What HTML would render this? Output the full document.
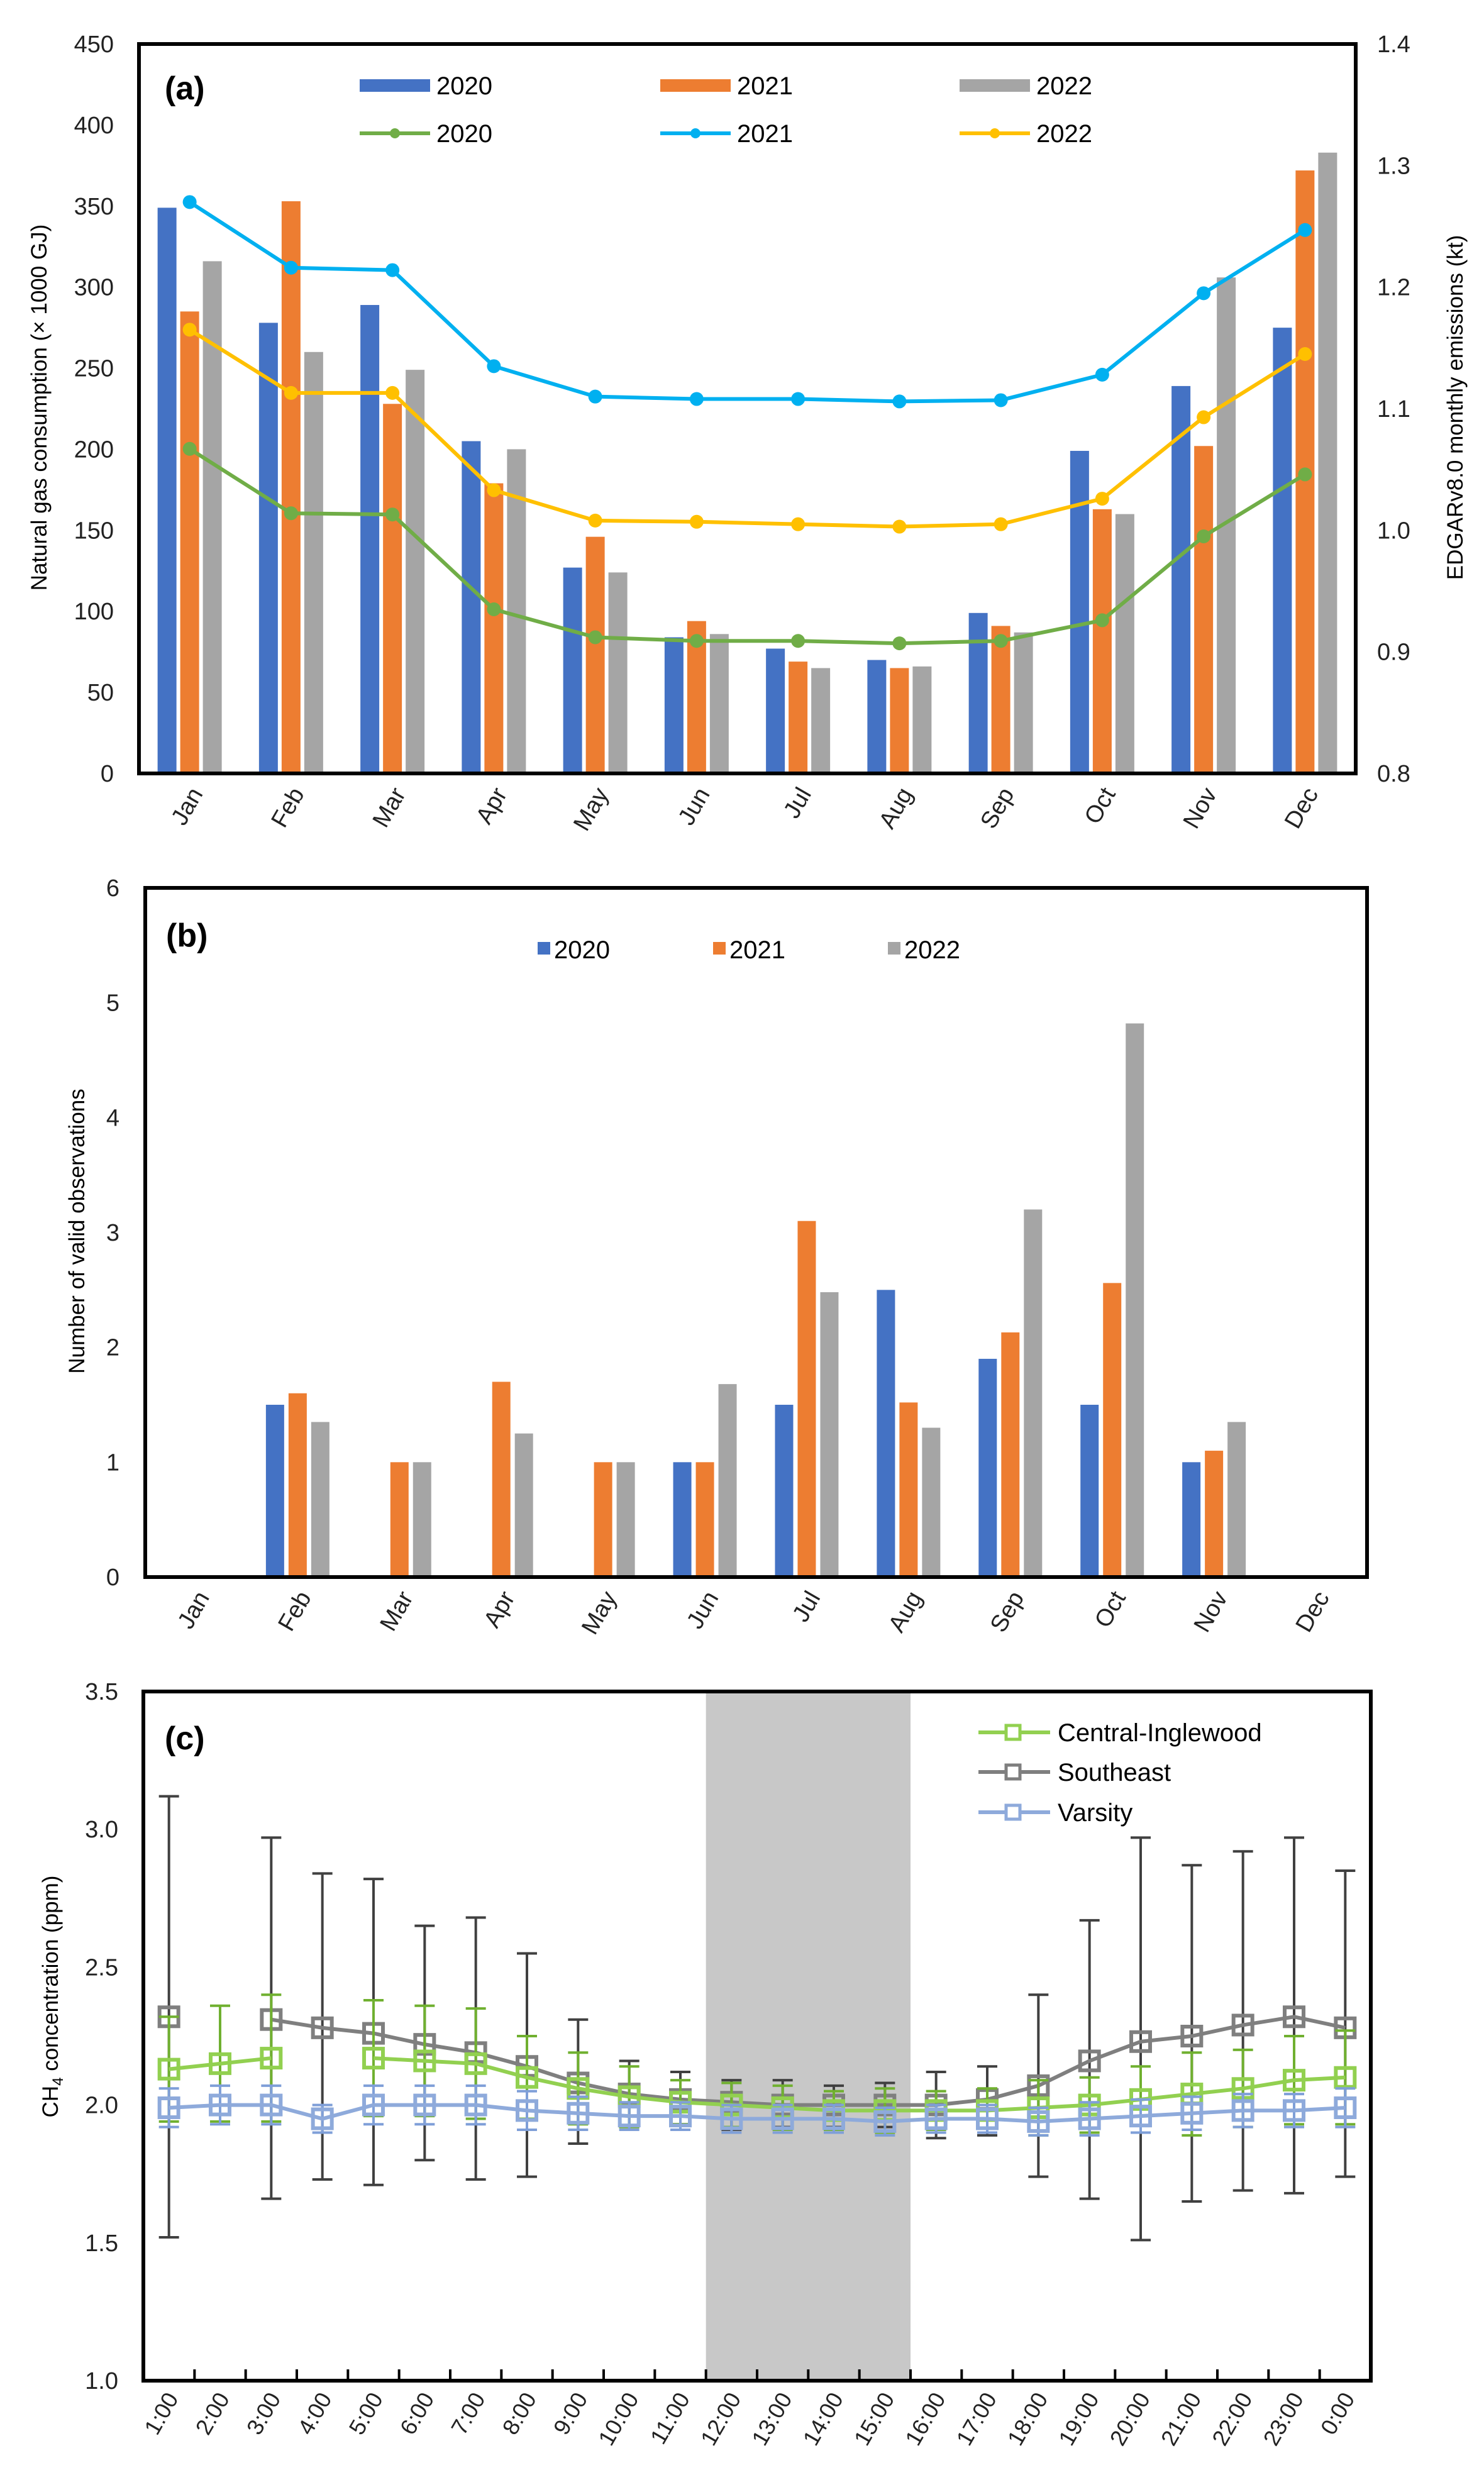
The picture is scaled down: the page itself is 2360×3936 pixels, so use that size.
<!DOCTYPE html>
<html><head><meta charset="utf-8"><style>
html,body{margin:0;padding:0;background:#fff;}
svg{display:block;font-family:"Liberation Sans",Arial,sans-serif;}
</style></head><body>
<svg id="fig" width="2360" height="3936" viewBox="0 0 2360 3936" xmlns="http://www.w3.org/2000/svg"></svg>
<script>
// ---------- Panel (a) data ----------
const months = ["Jan","Feb","Mar","Apr","May","Jun","Jul","Aug","Sep","Oct","Nov","Dec"];
const gas2020 = [349,278,289,205,127,84,77,70,99,199,239,275];
const gas2021 = [285,353,228,179,146,94,69,65,91,163,202,372];
const gas2022 = [316,260,249,200,124,86,65,66,87,160,306,383];
const em2020 = [1.067,1.014,1.013,0.935,0.912,0.909,0.909,0.907,0.909,0.926,0.995,1.046];
const em2021 = [1.270,1.216,1.214,1.135,1.110,1.108,1.108,1.106,1.107,1.128,1.195,1.247];
const em2022 = [1.165,1.113,1.113,1.033,1.008,1.007,1.005,1.003,1.005,1.026,1.093,1.145];
const aLeftTicks = [0,50,100,150,200,250,300,350,400,450];
const aRightTicks = ["0.8","0.9","1.0","1.1","1.2","1.3","1.4"];
// ---------- Panel (b) data ----------
const obs2020 = [0,1.5,0,0,0,1,1.5,2.5,1.9,1.5,1,0];
const obs2021 = [0,1.6,1,1.7,1,1,3.1,1.52,2.13,2.56,1.1,0];
const obs2022 = [0,1.35,1,1.25,1,1.68,2.48,1.3,3.2,4.82,1.35,0];
const bTicks = [0,1,2,3,4,5,6];
// ---------- Panel (c) data ----------
const hours = ["1:00","2:00","3:00","4:00","5:00","6:00","7:00","8:00","9:00","10:00","11:00","12:00","13:00","14:00","15:00","16:00","17:00","18:00","19:00","20:00","21:00","22:00","23:00","0:00"];
const seMean = [2.32,null,2.31,2.28,2.26,2.22,2.19,2.14,2.08,2.04,2.02,2.01,2.00,2.00,2.00,2.00,2.02,2.07,2.16,2.23,2.25,2.29,2.32,2.28];
const seHigh = [3.12,null,2.97,2.84,2.82,2.65,2.68,2.55,2.31,2.16,2.12,2.09,2.09,2.07,2.08,2.12,2.14,2.40,2.67,2.97,2.87,2.92,2.97,2.85];
const seLow  = [1.52,null,1.66,1.73,1.71,1.80,1.73,1.74,1.86,1.92,1.93,1.91,1.92,1.92,1.92,1.88,1.89,1.74,1.66,1.51,1.65,1.69,1.68,1.74];
const ciMean = [2.13,2.15,2.17,null,2.17,2.16,2.15,2.10,2.06,2.03,2.01,2.00,1.99,1.98,1.98,1.98,1.98,1.99,2.00,2.02,2.04,2.06,2.09,2.10];
const ciErr  = [0.19,0.21,0.23,null,0.21,0.20,0.20,0.15,0.13,0.11,0.08,0.08,0.08,0.07,0.08,0.07,0.08,0.10,0.10,0.12,0.15,0.14,0.16,0.17];
const vaMean = [1.99,2.00,2.00,1.95,2.00,2.00,2.00,1.98,1.97,1.96,1.96,1.95,1.95,1.95,1.94,1.95,1.95,1.94,1.95,1.96,1.97,1.98,1.98,1.99];
const vaErr  = [0.07,0.07,0.07,0.05,0.07,0.07,0.07,0.07,0.06,0.05,0.05,0.05,0.05,0.05,0.05,0.05,0.05,0.05,0.06,0.06,0.06,0.06,0.06,0.07];
const cTicks = ["1.0","1.5","2.0","2.5","3.0","3.5"];

const NS = "http://www.w3.org/2000/svg";
const svg = document.getElementById("fig");
function mk(tag, attrs, parent){
  const e = document.createElementNS(NS, tag);
  for (const k in attrs) e.setAttribute(k, attrs[k]);
  (parent||svg).appendChild(e);
  return e;
}
function txt(s, attrs, parent){ const e = mk("text", attrs, parent); e.textContent = s; return e; }

// ================= PANEL A =================
(function(){
  const L=221,R=2156,T=70,B=1230;
  const g = mk("g",{});
  
  
  const yL = v => B - (v/450)*(B-T);
  const yR = v => B - ((v-0.8)/0.6)*(B-T);
  const cw = (R-L)/12;
  const xC = i => L + cw*(i+0.5);
  const bars = [[gas2020,"#4472c4","bar-2020"],[gas2021,"#ed7d31","bar-2021"],[gas2022,"#a5a5a5","bar-2022"]];
  bars.forEach((s,si)=>{
    s[0].forEach((v,i)=>{
      const r = mk("rect",{x:xC(i)-51+si*36,y:yL(v),width:30,height:B-yL(v),fill:s[1]},g);
      
      
    });
  });
  const lines=[[em2020,"#70ad47","line-2020"],[em2021,"#00b0f0","line-2021"],[em2022,"#ffc000","line-2022"]];
  lines.forEach(s=>{
    const pts = s[0].map((v,i)=>xC(i)+","+yR(v)).join(" ");
    const p = mk("polyline",{points:pts,fill:"none",stroke:s[1],"stroke-width":6},g);
    
    
    s[0].forEach((v,i)=>{
      const c = mk("circle",{cx:xC(i),cy:yR(v),r:11,fill:s[1]},g);
      
      
    });
  });
  const frame = mk("rect",{x:L,y:T,width:R-L,height:B-T,fill:"none",stroke:"#000","stroke-width":6},g);
  
  
  aLeftTicks.forEach(v=>{
    const t = txt(String(v),{x:181,y:yL(v)+13,"font-size":38,"text-anchor":"end",fill:"#222"},g);
    
    
  });
  aRightTicks.forEach(v=>{
    const t = txt(v,{x:2190,y:yR(+v)+13,"font-size":38,fill:"#222"},g);
    
    
  });
  months.forEach((m,i)=>{
    const t = txt(m,{x:0,y:0,"font-size":38,"text-anchor":"end",fill:"#222",transform:`translate(${xC(i)+22},${B+32}) rotate(-60)`},g);
    
    
  });
  const yt = txt("Natural gas consumption (× 1000 GJ)",{x:0,y:0,"font-size":35,"text-anchor":"middle",fill:"#000",transform:"translate(74,648) rotate(-90)"},g);
  
  
  const yt2 = txt("EDGARv8.0 monthly emissions (kt)",{x:0,y:0,"font-size":35,"text-anchor":"middle",fill:"#000",transform:"translate(2326,648) rotate(-90)"},g);
  
  
  const lab = txt("(a)",{x:262,y:158,"font-size":52,"font-weight":"bold",fill:"#000"},g);
  
  
  const legX=[572,1050,1526], legC1=["#4472c4","#ed7d31","#a5a5a5"], legC2=["#70ad47","#00b0f0","#ffc000"], yrs=["2020","2021","2022"];
  yrs.forEach((y,i)=>{
    const r = mk("rect",{x:legX[i],y:126,width:112,height:20,fill:legC1[i]},g);
    
    
    const t = txt(y,{x:legX[i]+122,y:150,"font-size":40,fill:"#000"},g);
    
    
    const l = mk("line",{x1:legX[i],y1:212,x2:legX[i]+112,y2:212,stroke:legC2[i],"stroke-width":6},g);
    
    
    const c = mk("circle",{cx:legX[i]+56,cy:212,r:8,fill:legC2[i]},g);
    
    
    const t2 = txt(y,{x:legX[i]+122,y:226,"font-size":40,fill:"#000"},g);
    
    
  });
})();

// ================= PANEL B =================
(function(){
  const L=231,R=2174,T=1412,B=2508;
  const g = mk("g",{});
  
  
  const y = v => B - (v/6)*(B-T);
  const cw = (R-L)/12;
  const xC = i => L + cw*(i+0.5);
  const bars = [[obs2020,"#4472c4","obs-2020"],[obs2021,"#ed7d31","obs-2021"],[obs2022,"#a5a5a5","obs-2022"]];
  bars.forEach((s,si)=>{
    s[0].forEach((v,i)=>{
      if(!v) return;
      const r = mk("rect",{x:xC(i)-51+si*36,y:y(v),width:29,height:B-y(v),fill:s[1]},g);
      
      
    });
  });
  const frame = mk("rect",{x:L,y:T,width:R-L,height:B-T,fill:"none",stroke:"#000","stroke-width":6},g);
  
  
  bTicks.forEach(v=>{
    const t = txt(String(v),{x:190,y:y(v)+13,"font-size":38,"text-anchor":"end",fill:"#222"},g);
    
    
  });
  months.forEach((m,i)=>{
    const t = txt(m,{x:0,y:0,"font-size":38,"text-anchor":"end",fill:"#222",transform:`translate(${xC(i)+22},${B+32}) rotate(-60)`},g);
    
    
  });
  const yt = txt("Number of valid observations",{x:0,y:0,"font-size":35,"text-anchor":"middle",fill:"#000",transform:"translate(134,1958) rotate(-90)"},g);
  
  
  const lab = txt("(b)",{x:264,y:1505,"font-size":52,"font-weight":"bold",fill:"#000"},g);
  
  
  const lx=[855,1134,1412], lc=["#4472c4","#ed7d31","#a5a5a5"], yrs=["2020","2021","2022"];
  yrs.forEach((yy,i)=>{
    const r = mk("rect",{x:lx[i],y:1498,width:20,height:20,fill:lc[i]},g);
    
    
    const t = txt(yy,{x:lx[i]+26,y:1524,"font-size":40,fill:"#000"},g);
    
    
  });
})();

// ================= PANEL C =================
(function(){
  const L=228,R=2180,T=2690,B=3786;
  const g = mk("g",{});
  
  
  const y = v => B - ((v-1)/2.5)*(B-T);
  const cw = (R-L)/24;
  const xC = i => L + cw*(i+0.5);
  const sh = mk("rect",{x:L+cw*11,y:T,width:cw*4,height:B-T,fill:"#c8c8c8"},g);
  
  
  function series(mean, hi, lo, col, name, capCol){
    // error bars
    mean.forEach((v,i)=>{
      if(v===null) return;
      const h=hi(i), l=lo(i), x=xC(i);
      const e = mk("path",{d:`M${x},${y(h)}V${y(l)}M${x-16},${y(h)}H${x+16}M${x-16},${y(l)}H${x+16}`,stroke:capCol,"stroke-width":4,fill:"none"},g);
      
      
    });
    let segs=[],cur=[];
    mean.forEach((v,i)=>{ if(v===null){ if(cur.length) segs.push(cur); cur=[]; } else cur.push(xC(i)+","+y(v)); });
    if(cur.length) segs.push(cur);
    segs.forEach(s=>{
      const p = mk("polyline",{points:s.join(" "),fill:"none",stroke:col,"stroke-width":6},g);
      
      
    });
    mean.forEach((v,i)=>{
      if(v===null) return;
      const m = mk("rect",{x:xC(i)-15,y:y(v)-15,width:30,height:30,fill:"none",stroke:col,"stroke-width":6},g);
      
      
    });
  }
  series(seMean, i=>seHigh[i], i=>seLow[i], "#7f7f7f", "southeast", "#404040");
  series(ciMean, i=>ciMean[i]+ciErr[i], i=>ciMean[i]-ciErr[i], "#92d050", "central-inglewood", "#70b030");
  series(vaMean, i=>vaMean[i]+vaErr[i], i=>vaMean[i]-vaErr[i], "#8eaadb", "varsity", "#7f9fd8");
  const frame = mk("rect",{x:L,y:T,width:R-L,height:B-T,fill:"none",stroke:"#000","stroke-width":6},g);
  
  
  for(let i=1;i<24;i++){
    const tk = mk("line",{x1:L+cw*i,y1:B,x2:L+cw*i,y2:B-18,stroke:"#000","stroke-width":4},g);
    
    
  }
  cTicks.forEach(v=>{
    const t = txt(v,{x:188,y:y(+v)+13,"font-size":38,"text-anchor":"end",fill:"#222"},g);
    
    
  });
  hours.forEach((h,i)=>{
    const t = txt(h,{x:0,y:0,"font-size":36,"text-anchor":"end",fill:"#222",transform:`translate(${xC(i)+16},${B+28}) rotate(-60)`},g);
    
    
  });
  const yt = txt("",{x:0,y:0,"font-size":35,"text-anchor":"middle",fill:"#000",transform:"translate(92,3175) rotate(-90)"},g);
  
  
  const t1 = mk("tspan",{},yt); t1.textContent="CH";
  const t2 = mk("tspan",{"font-size":24,dy:8},yt); t2.textContent="4";
  const t3 = mk("tspan",{dy:-8},yt); t3.textContent=" concentration (ppm)";
  const lab = txt("(c)",{x:262,y:2782,"font-size":52,"font-weight":"bold",fill:"#000"},g);
  
  
  const ly=[2755,2818,2882], lcol=["#92d050","#7f7f7f","#8eaadb"], lnames=["Central-Inglewood","Southeast","Varsity"];
  lnames.forEach((n,i)=>{
    const l = mk("line",{x1:1556,y1:ly[i],x2:1670,y2:ly[i],stroke:lcol[i],"stroke-width":6},g);
    
    
    const m = mk("rect",{x:1600,y:ly[i]-11,width:22,height:22,fill:"#fff",stroke:lcol[i],"stroke-width":5},g);
    
    
    const t = txt(n,{x:1682,y:ly[i]+14,"font-size":40,fill:"#000"},g);
    
    
  });
})();
</script>
</body></html>
